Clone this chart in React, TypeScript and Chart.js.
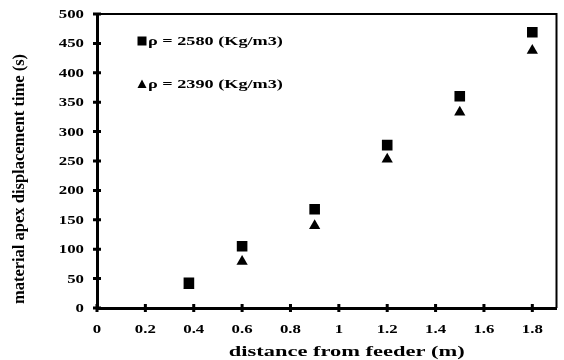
import React, { useEffect, useRef } from "react";
import { Chart, registerables } from "chart.js";

Chart.register(...registerables);

const distances = [0.38, 0.6, 0.9, 1.2, 1.5, 1.8];
const time2580 = [43, 105, 168, 277, 360, 469];
const time2390 = [38, 79, 140, 253, 333, 438];
const seriesLabels = ["ρ = 2580 (Kg/m3)", "ρ = 2390 (Kg/m3)"];
const xTickValues = [0, 0.2, 0.4, 0.6, 0.8, 1, 1.2, 1.4, 1.6, 1.8];
const xTitle = "distance from feeder (m)";
const yTitle = "material apex displacement time (s)";

const FONT = "'Liberation Serif', 'Times New Roman', serif";

function stretchText(ctx: any, text: string, x: number, y: number, sx: number, align: string) {
  ctx.save();
  ctx.translate(x, y);
  ctx.scale(sx, 1);
  ctx.textAlign = align;
  ctx.fillText(text, 0, 0);
  ctx.restore();
}

const framePlugin = {
  id: "frame",
  afterDraw(chart: any) {
    const { ctx, chartArea, scales } = chart;
    const { left, right, top, bottom } = chartArea;
    ctx.save();
    ctx.strokeStyle = "#000";
    ctx.fillStyle = "#000";
    // top & right border
    ctx.lineWidth = 2;
    ctx.beginPath();
    ctx.moveTo(left, top);
    ctx.lineTo(right, top);
    ctx.lineTo(right, bottom);
    ctx.stroke();
    // crossing tick marks + labels
    ctx.lineWidth = 3;
    ctx.beginPath();
    scales.y.ticks.forEach((t: any) => {
      const py = scales.y.getPixelForValue(t.value);
      ctx.moveTo(left - 4, py);
      ctx.lineTo(left + 4, py);
    });
    scales.x.ticks.forEach((t: any) => {
      const px = scales.x.getPixelForValue(t.value);
      ctx.moveTo(px, bottom - 4);
      ctx.lineTo(px, bottom + 4);
    });
    ctx.stroke();

    ctx.font = `bold 12px ${FONT}`;
    ctx.textBaseline = "middle";
    scales.y.ticks.forEach((t: any) => {
      const py = scales.y.getPixelForValue(t.value);
      stretchText(ctx, String(t.value), left - 13, py + 1, 1.4, "right");
    });
    scales.x.ticks.forEach((t: any) => {
      const px = scales.x.getPixelForValue(t.value);
      stretchText(ctx, String(t.value), px, bottom + 22, 1.4, "center");
    });

    // axis titles
    ctx.font = `bold 14.5px ${FONT}`;
    stretchText(ctx, xTitle, (left + right) / 2 + 20, bottom + 44, 1.55, "center");
    ctx.save();
    ctx.translate(20, 179);
    ctx.rotate(-Math.PI / 2);
    ctx.font = `bold 16.5px ${FONT}`;
    ctx.textAlign = "center";
    ctx.fillText(yTitle, 0, 0);
    ctx.restore();

    // legend inside chart area
    ctx.font = `bold 13px ${FONT}`;
    const lx = 142;
    const rows = [41, 84];
    chart.data.datasets.forEach((ds: any, i: number) => {
      const cy = rows[i];
      ctx.beginPath();
      if (i === 0) {
        ctx.rect(lx - 4.5, cy - 4.5, 9, 9);
      } else {
        ctx.moveTo(lx - 4.5, cy + 4);
        ctx.lineTo(lx + 4.5, cy + 4);
        ctx.lineTo(lx, cy - 4.5);
        ctx.closePath();
      }
      ctx.fill();
      stretchText(ctx, ds.label, lx + 6, cy + 1, 1.4, "left");
    });
    ctx.restore();
  },
};

export default function App() {
  const ref = useRef<HTMLCanvasElement>(null);
  useEffect(() => {
    document.body.style.margin = "0";
    const chart = new Chart(ref.current!, {
      type: "scatter",
      data: {
        datasets: [
          {
            label: seriesLabels[0],
            data: distances.map((x, i) => ({ x, y: time2580[i] })),
            pointStyle: "rect",
            pointRadius: 7.5,
            backgroundColor: "#000",
            borderColor: "#000",
            borderWidth: 0,
          },
          {
            label: seriesLabels[1],
            data: distances.map((x, i) => ({ x, y: time2390[i] })),
            pointStyle: "triangle",
            pointRadius: 6.5,
            backgroundColor: "#000",
            borderColor: "#000",
            borderWidth: 0,
          },
        ],
      },
      options: {
        responsive: false,
        animation: false,
        layout: { padding: { top: 14, right: 4, left: 0, bottom: 0 } },
        plugins: { legend: { display: false }, tooltip: { enabled: false } },
        scales: {
          x: {
            type: "linear",
            min: 0,
            max: 1.9,
            afterBuildTicks(scale: any) {
              scale.ticks = xTickValues.map((v) => ({ value: v }));
            },
            afterFit(scale: any) {
              scale.height = 52;
            },
            grid: { display: false, drawTicks: false },
            border: { display: true, color: "#000", width: 3 },
            ticks: { display: false },
            title: { display: false, text: xTitle },
          },
          y: {
            type: "linear",
            min: 0,
            max: 500,
            ticks: { stepSize: 50, display: false },
            afterFit(scale: any) {
              scale.width = 97;
            },
            grid: { display: false, drawTicks: false },
            border: { display: true, color: "#000", width: 3 },
            title: { display: false, text: yTitle },
          },
        },
      },
      plugins: [framePlugin],
    });
    return () => chart.destroy();
  }, []);
  return <canvas ref={ref} width={564} height={360} style={{ display: "block" }} />;
}
